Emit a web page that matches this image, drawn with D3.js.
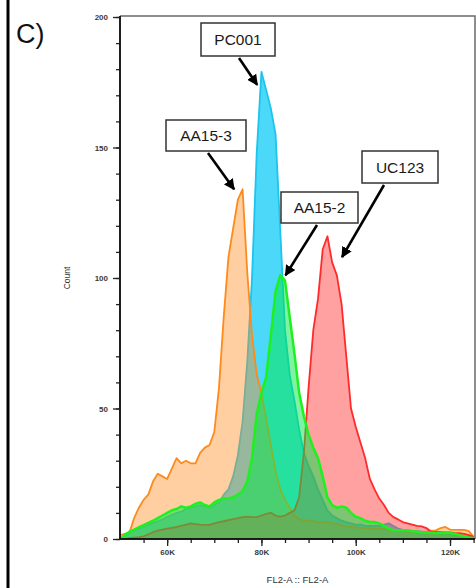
<!DOCTYPE html>
<html>
<head>
<meta charset="utf-8">
<script src="https://cdn.jsdelivr.net/npm/d3@7"></script>
<style>
  body { margin: 0; background: #fff; }
  svg { display: block; font-family: Arial, "Liberation Sans", sans-serif; }
</style>
</head>
<body>
<div id="chart"></div>
<script>
// channel centres in K (FL2-A / 1000), one bin per 1K
var binsK = d3.range(50, 126);

// counts per bin
var pc001 = [0,1,2.3,3.3,4,4.6,5.5,6.2,6.8,7.5,8.5,9.3,10,10.5,11.5,12,12.5,13,12.5,12,
  13,14,17,19,24,32,45,68,100,148,179,172,165,155,118,80,63,53,42,33,
  28,24,19,15,11,9,8,7,6.5,6,5.5,5.5,5,5,5,5,5.5,6,5,4,
  3.5,3,3,3,2.8,2.5,2.3,2.2,2,2,1.8,1.5,1.2,1,0.8,0.5];
var aa153 = [1.5,2,2.5,8,12,15,17,22,25,24,23,27,31,29,30,29,29,33,35,36,
  41,58,85,108,119,130,134,102,78,63,56,46,36,26,19,15,12,9,7.5,7,
  7,6.8,6.5,6.5,6.5,6,5.8,5.2,4.8,4.6,4.5,4.3,4.2,4,4,4,3.8,3.6,3.4,3.2,
  3,2.8,2.7,2.7,2.7,2.8,3.2,3.3,4.2,4.6,3.6,3.5,3.5,3.5,3,0.8];
var uc123 = [0,0,0.3,0.5,0.7,1,1.8,2.6,3.2,3.6,4,4.3,4.6,5,5.5,6,5.7,5.5,5.4,5.4,
  6,6.5,6.8,7.2,7.6,8,8.4,8.6,8.4,8.4,9,9.6,10,9,8.6,9,10,11,16,33,
  58,80,92,111,116,106,101,90,70,50,43,37,31,23,19,15.5,13,10,8.4,7.5,
  6.5,6,5.5,5,4.8,4.2,2.8,2.7,2.6,2.5,2.5,2.3,2.2,2,1.5,0.8];
var aa152 = [0,1.5,2.8,3.6,4.5,5.3,6.2,7,8,9,10,11,11.5,12.5,12,12.5,13.5,14,13,12.5,
  14,15,15.5,15.5,16,17,18.5,22,31,48,56,62,78,95,101,99,85,71,56,47,
  40,35,31,24,16,13,12,12.5,12,10,8.5,8,7,6.5,6.5,6,5,4,3.4,3.4,
  3.4,3.4,3,2.8,2.6,2.5,2.4,2.3,2.3,2.3,2.3,2,1.5,1,0.6,0.3];

var yTicks = [0, 50, 100, 150, 200];
var xTicks = [60000, 80000, 100000, 120000];
var xTickLabels = ["60K", "80K", "100K", "120K"];

// drawing order: first drawn sits at the bottom
var series = [
  {name: "PC001", values: pc001, stroke: "#1cc4ee", fill: "rgb(0,200,245)", op: 0.7, tip: [79.1, 174], box: [201, 23, 74, 33], from: 38},
  {name: "AA15-3", values: aa153, stroke: "#ff8a1c", fill: "rgb(255,140,30)", op: 0.42, tip: [74.2, 134], box: [166, 120, 80, 31], from: 42},
  {name: "UC123", values: uc123, stroke: "#ff2b2b", fill: "rgb(255,50,50)", op: 0.46, tip: [97.1, 108], box: [362, 151, 76, 32], from: 22},
  {name: "AA15-2", values: aa152, stroke: "#1ff01f", fill: "rgb(0,232,70)", op: 0.5, tip: [85.1, 101], box: [281, 192, 77, 31], from: 36}
];

var width = 476, height = 588;
var mLeft = 120, mRight = 475, mTop = 17, mBottom = 539;

var x = d3.scaleLinear().domain([50000, 125300]).range([mLeft, mRight]);
var y = d3.scaleLinear().domain([0, 200]).range([mBottom, mTop]);

var svg = d3.select("#chart").append("svg")
  .attr("width", width)
  .attr("height", height);

// panel edge on the left and panel letter
svg.append("line")
  .attr("x1", 8).attr("x2", 8).attr("y1", 0).attr("y2", height)
  .attr("stroke", "#000").attr("stroke-width", 3);
svg.append("text")
  .attr("x", 16).attr("y", 43)
  .attr("font-size", 27)
  .attr("fill", "#111")
  .text("C)");

svg.append("clipPath").attr("id", "plotclip")
  .append("rect").attr("x", mLeft).attr("y", 0).attr("width", mRight - mLeft).attr("height", mBottom);

var area = d3.area()
  .x((d, i) => x(binsK[i] * 1000))
  .y0(y(0))
  .y1(d => y(d));
var line = d3.line()
  .x((d, i) => x(binsK[i] * 1000))
  .y(d => y(d));

var plot = svg.append("g").attr("clip-path", "url(#plotclip)");
series.forEach(function(s) {
  plot.append("path")
    .attr("d", area(s.values))
    .attr("fill", s.fill)
    .attr("fill-opacity", s.op);
  plot.append("path")
    .attr("d", line(s.values))
    .attr("fill", "none")
    .attr("stroke", s.stroke)
    .attr("stroke-width", s.name == "AA15-2" ? 2.5 : 1.8)
    .attr("stroke-linejoin", "round");
});

// frame top and right
svg.append("path")
  .attr("d", `M${mLeft},${mTop - 1}H${mRight}V${mBottom}`)
  .attr("fill", "none")
  .attr("stroke", "#6a6a6a")
  .attr("stroke-width", 1.5);

// y axis
var yMinor = svg.append("g")
  .attr("transform", `translate(${mLeft},0)`)
  .call(d3.axisLeft(y).tickValues(d3.range(0, 201, 10)).tickSize(4).tickFormat(""));
var yAxis = svg.append("g")
  .attr("transform", `translate(${mLeft},0)`)
  .call(d3.axisLeft(y).tickValues(yTicks).tickSize(7).tickPadding(5));
yAxis.selectAll("text").attr("font-size", 8).attr("font-weight", "bold").attr("fill", "#3a3a3a");

// x axis
var xMinor = svg.append("g")
  .attr("transform", `translate(0,${mBottom})`)
  .call(d3.axisBottom(x).tickValues(d3.range(55000, 125001, 5000)).tickSize(4).tickFormat(""));
var xAxis = svg.append("g")
  .attr("transform", `translate(0,${mBottom})`)
  .call(d3.axisBottom(x).tickValues(xTicks).tickSize(7).tickPadding(3)
    .tickFormat((d, i) => xTickLabels[i]));
xAxis.selectAll("text").attr("font-size", 8).attr("font-weight", "bold").attr("fill", "#3a3a3a");

[yMinor, yAxis, xMinor, xAxis].forEach(function(g) {
  g.select(".domain").attr("stroke", "#111").attr("stroke-width", 1.5);
  g.selectAll(".tick line").attr("stroke", "#222").attr("stroke-width", 1.3);
});
xMinor.select(".domain").attr("d", `M${mLeft},0H${mRight}`);
xAxis.select(".domain").attr("d", `M${mLeft},0H${mRight}`);
yAxis.select(".domain").attr("d", `M0,${mBottom}V${mTop - 1}`);
yMinor.select(".domain").attr("d", `M0,${mBottom}V${mTop - 1}`);

svg.append("text")
  .attr("transform", `translate(70,${(mTop + mBottom) / 2}) rotate(-90)`)
  .attr("text-anchor", "middle")
  .attr("font-size", 8.5)
  .attr("fill", "#333")
  .text("Count");
svg.append("text")
  .attr("x", (mLeft + mRight) / 2)
  .attr("y", 583)
  .attr("text-anchor", "middle")
  .attr("font-size", 9.5)
  .attr("fill", "#333")
  .text("FL2-A :: FL2-A");

// labelled boxes with arrows
svg.append("defs").append("marker")
  .attr("id", "head")
  .attr("viewBox", "0 0 10 10")
  .attr("refX", 9).attr("refY", 5)
  .attr("markerWidth", 4.2).attr("markerHeight", 4.2)
  .attr("orient", "auto")
  .append("path").attr("d", "M0,0L10,5L0,10Z").attr("fill", "#000");

var notes = svg.append("g");
series.forEach(function(s) {
  var b = s.box;
  var tx = x(s.tip[0] * 1000), ty = y(s.tip[1]);
  var sx = b[0] + s.from, sy = b[1] + b[3];
  notes.append("line")
    .attr("x1", sx).attr("y1", sy + 2)
    .attr("x2", tx).attr("y2", ty)
    .attr("stroke", "#000").attr("stroke-width", 2.6)
    .attr("marker-end", "url(#head)");
  notes.append("rect")
    .attr("x", b[0]).attr("y", b[1]).attr("width", b[2]).attr("height", b[3])
    .attr("fill", "#fff").attr("stroke", "#333").attr("stroke-width", 1.5);
  notes.append("text")
    .attr("x", b[0] + b[2] / 2).attr("y", b[1] + b[3] / 2 + 5.5)
    .attr("text-anchor", "middle")
    .attr("font-size", 15.5)
    .attr("fill", "#1a1a1a")
    .text(s.name);
});
</script>
</body>
</html>
